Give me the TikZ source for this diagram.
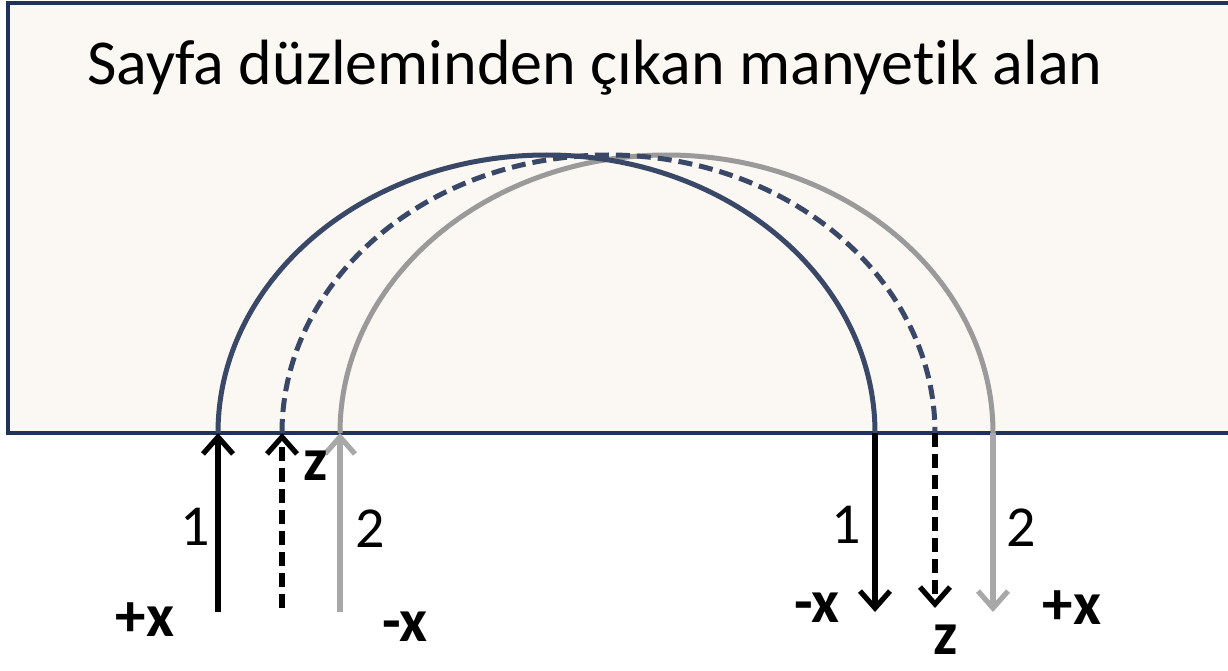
\documentclass[tikz,border=0pt]{standalone}
\usepackage{fontspec}
\setmainfont{Carlito}[Ligatures={NoCommon}]
\usetikzlibrary{arrows.meta}
\definecolor{boxfill}{HTML}{FBF7F2}
\definecolor{boxline}{HTML}{1F3258}
\definecolor{navy}{HTML}{3A4868}
\definecolor{arcgray}{HTML}{9A9A9A}
\definecolor{arrgray}{HTML}{A8A8A8}
\tikzset{
  fieldarc/.style={line width=5pt},
  vec/.style={line width=5.2pt,-{Straight Barb[length=17pt,width=30pt,line width=5.2pt]}},
  dsh/.style={dash pattern=on 14pt off 7pt},
  lbl/.style={font=\fontsize{58}{60}\selectfont,inner sep=0pt},
  blbl/.style={font=\fontsize{61}{64}\selectfont\bfseries,inner sep=0pt},
}
\begin{document}
\begin{tikzpicture}[x=1pt,y=-1pt]
\useasboundingbox (0,0) rectangle (1228,671);
\clip (0,0) rectangle (1228,671);
\draw[fill=boxfill,draw=boxline,line width=3.3pt] (8,3) rectangle (1240,433);
\node[font=\fontsize{64}{70}\selectfont,inner sep=0pt] (title) at (595,68) {Sayfa düzleminden çıkan manyetik alan};
% arc endpoints
\coordinate (a1s) at (218,433); \coordinate (a1e) at (875,433);
\coordinate (a2s) at (282,433); \coordinate (a2e) at (935,433);
\coordinate (a3s) at (340,433); \coordinate (a3e) at (993,433);
% arcs
\draw[fieldarc,arcgray] (a3s) arc[start angle=180,end angle=360,x radius=326.5,y radius=278];
\draw[fieldarc,navy,dsh] (a2s) arc[start angle=180,end angle=360,x radius=326.5,y radius=278];
\draw[fieldarc,navy] (a1s) arc[start angle=180,end angle=360,x radius=328.5,y radius=278];
% arrow tails
\coordinate (l1) at (218,612); \coordinate (l2) at (282,608); \coordinate (l3) at (340,612);
\coordinate (r1) at (875,612); \coordinate (r2) at (935,608); \coordinate (r3) at (993,612);
\draw[vec,black] (l1) -- (a1s);
\draw[vec,black,dsh] (l2) -- (a2s);
\draw[vec,arrgray] (l3) -- (a3s);
\draw[vec,black] (a1e) -- (r1);
\draw[vec,black,dsh] (a2e) -- (r2);
\draw[vec,arrgray] (a3e) -- (r3);
% labels
\node[lbl] (n1l) at (195,527) {1};
\node[lbl] (n2l) at (370,529) {2};
\node[blbl] (zl) at (316,466) {z};
\node[blbl] (pxl) at (145,620) {+x};
\node[blbl] (mxl) at (405,627) {-x};
\node[lbl] (n1r) at (846,525) {1};
\node[lbl] (n2r) at (1021,528) {2};
\node[blbl] (mxr) at (817,608) {-x};
\node[blbl] (zr) at (946,640) {z};
\node[blbl] (pxr) at (1072,608) {+x};
\end{tikzpicture}
\end{document}
